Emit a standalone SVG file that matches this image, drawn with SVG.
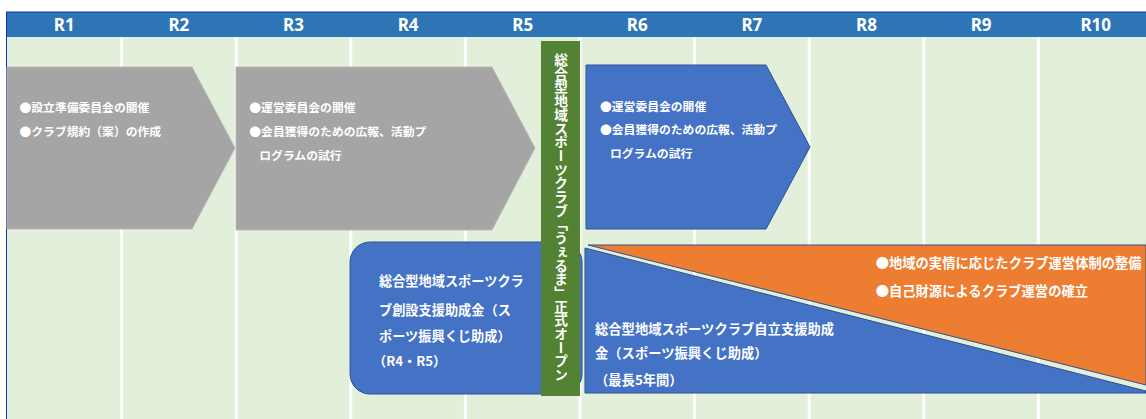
<svg xmlns="http://www.w3.org/2000/svg" width="1146" height="419" viewBox="0 0 1146 419">
<style>
.t{font-family:"Noto Sans CJK JP","Noto Sans",sans-serif;font-weight:bold;fill:#FFFFFF}
.h{font-family:"Noto Sans","Liberation Sans",sans-serif;font-weight:bold;fill:#FFFFFF;font-size:17px;text-anchor:middle}
.sep{stroke:#FFFFFF;stroke-width:3}
.s{font-size:11.8px}
.m{font-size:13.2px}
.l{font-size:13.3px}
</style>
<rect x="0" y="0" width="1146" height="419" fill="#FFFFFF"/>
<g id="grid">
<rect x="6" y="37" width="1140" height="382" fill="#E2EFDA"/>
<rect x="6" y="12" width="1140" height="25" fill="#2E75B6"/>
<line x1="6" y1="12" x2="1146" y2="12" stroke="#1530B0" stroke-width="1"/>
<line x1="6.5" y1="12" x2="6.5" y2="419" stroke="#1530B0" stroke-width="1"/>
<line class="sep" x1="121.6" y1="37" x2="121.6" y2="419"/>
<line class="sep" x1="236.2" y1="37" x2="236.2" y2="419"/>
<line class="sep" x1="350.8" y1="37" x2="350.8" y2="419"/>
<line class="sep" x1="465.4" y1="37" x2="465.4" y2="419"/>
<line class="sep" x1="580" y1="37" x2="580" y2="419"/>
<line class="sep" x1="694.6" y1="37" x2="694.6" y2="419"/>
<line class="sep" x1="809.2" y1="37" x2="809.2" y2="419"/>
<line class="sep" x1="923.8" y1="37" x2="923.8" y2="419"/>
<line class="sep" x1="1038.4" y1="37" x2="1038.4" y2="419"/>
<text class="h" x="64.3" y="31">R1</text>
<text class="h" x="178.9" y="31">R2</text>
<text class="h" x="293.5" y="31">R3</text>
<text class="h" x="408.1" y="31">R4</text>
<text class="h" x="522.7" y="31">R5</text>
<text class="h" x="637.3" y="31">R6</text>
<text class="h" x="751.9" y="31">R7</text>
<text class="h" x="866.5" y="31">R8</text>
<text class="h" x="981.1" y="31">R9</text>
<text class="h" x="1095.7" y="31">R10</text>
</g>
<g id="connectors"></g>
<g id="phase1">
<polygon points="7,67 192,67 235,148 192,229 7,229" fill="#A5A5A5" stroke="#B8B8B8" stroke-width="1"/>
<text class="t s" x="19.5" y="112">●設立準備委員会の開催</text>
<text class="t s" x="19.5" y="136">●クラブ規約（案）の作成</text>
</g>
<g id="phase2">
<polygon points="236,67 492,67 535,148 492,230 236,230" fill="#A5A5A5" stroke="#B8B8B8" stroke-width="1"/>
<text class="t s" x="249.3" y="112">●運営委員会の開催</text>
<text class="t s" x="249.3" y="136">●会員獲得のための広報、活動プ</text>
<text class="t s" x="259.3" y="160">ログラムの試行</text>
</g>
<g id="startup-grant">
<rect x="350" y="242" width="232" height="152" rx="20" ry="20" fill="#4472C4" stroke="#2F528F" stroke-width="1"/>
<text class="t m" x="379" y="286.3">総合型地域スポーツクラ</text>
<text class="t m" x="379" y="314.6">ブ創設支援助成金（ス</text>
<text class="t m" x="379" y="341.3">ポーツ振興くじ助成）</text>
<text class="t m" x="373" y="366.3">（R4・R5）</text>
</g>
<g id="opening">
<rect x="541" y="41" width="39" height="355" fill="#548235"/>
<text class="t" x="561" y="53" font-size="13.7" style="writing-mode:vertical-rl">総合型地域スポーツクラブ「うぇるま」正式オープン</text>
</g>
<g id="phase3">
<polygon points="586,65 766,65 810,147 766,229 586,229" fill="#4472C4" stroke="#2F528F" stroke-width="1"/>
<text class="t s" x="600" y="110.7">●運営委員会の開催</text>
<text class="t s" x="600" y="134">●会員獲得のための広報、活動プ</text>
<text class="t s" x="610" y="157.5">ログラムの試行</text>
</g>
<g id="independence-grant">
<polygon points="585,248 1146,391 1146,393 585,393" fill="#4472C4" stroke="#2F528F" stroke-width="1"/>
<text class="t l" x="595" y="333.6">総合型地域スポーツクラブ自立支援助成</text>
<text class="t l" x="595" y="357.6">金（スポーツ振興くじ助成）</text>
<text class="t l" x="595" y="385.3">（最長5年間）</text>
</g>
<g id="self-reliance">
<polygon points="588,245 1146,245 1146,385" fill="#ED7D31" stroke="#2F528F" stroke-width="1"/>
<text class="t l" x="875.7" y="267.6">●地域の実情に応じたクラブ運営体制の整備</text>
<text class="t l" x="875.7" y="296.3">●自己財源によるクラブ運営の確立</text>
</g>
</svg>
